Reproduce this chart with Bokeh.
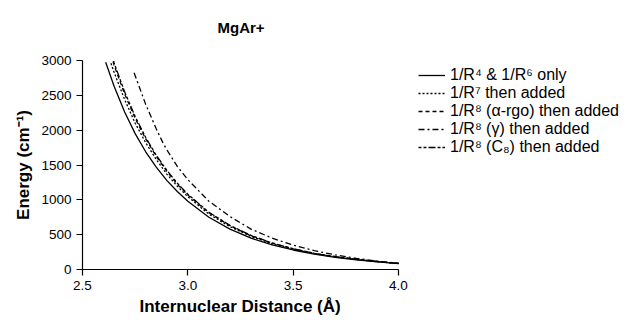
from bokeh.plotting import figure
from bokeh.models import Legend, LegendItem, FixedTicker, Title
from bokeh.embed import file_html
from bokeh.resources import INLINE

# ---- data ----
r_a = [2.61, 2.65, 2.70, 2.75, 2.80, 2.85, 2.90, 2.95, 3.00, 3.10, 3.20, 3.30, 3.40, 3.50, 3.60, 3.70, 3.80, 3.90, 4.00]
e_r4r6 = [2975, 2630, 2260, 1950, 1690, 1470, 1280, 1120, 980, 750, 580, 450, 355, 280, 220, 175, 140, 110, 85]

r_b = [2.635, 2.65, 2.70, 2.75, 2.80, 2.85, 2.90, 2.95, 3.00, 3.10, 3.20, 3.30, 3.40, 3.50, 3.60, 3.70, 3.80, 3.90, 4.00]
e_r7 = [2960, 2830, 2440, 2100, 1820, 1580, 1370, 1195, 1045, 795, 615, 475, 370, 290, 228, 180, 143, 112, 86]

r_c = [2.645, 2.65, 2.70, 2.75, 2.80, 2.85, 2.90, 2.95, 3.00, 3.10, 3.20, 3.30, 3.40, 3.50, 3.60, 3.70, 3.80, 3.90, 4.00]
e_alpha = [2985, 2930, 2520, 2170, 1875, 1625, 1410, 1225, 1070, 815, 628, 485, 378, 296, 232, 183, 145, 114, 88]

r_d = [2.745, 2.80, 2.85, 2.883, 2.90, 2.95, 3.00, 3.10, 3.20, 3.30, 3.40, 3.50, 3.60, 3.70, 3.80, 3.90, 4.00]
e_gamma = [2823, 2370, 2020, 1810, 1720, 1480, 1290, 980, 760, 580, 450, 350, 270, 210, 160, 120, 90]

r_e = [2.648, 2.65, 2.70, 2.75, 2.80, 2.85, 2.90, 2.95, 3.00, 3.10, 3.20, 3.30, 3.40, 3.50, 3.60, 3.70, 3.80, 3.90, 4.00]
e_c8 = [2990, 2965, 2550, 2195, 1895, 1640, 1425, 1240, 1080, 822, 633, 490, 381, 298, 233, 184, 146, 115, 88]

x_ticks = [2.5, 3.0, 3.5, 4.0]
y_ticks = [0, 500, 1000, 1500, 2000, 2500, 3000]

labels = ["1/R\u2074 & 1/R\u2076 only",
          "1/R\u2077 then added",
          "1/R\u2078 (\u03b1-rgo) then added",
          "1/R\u2078 (\u03b3) then added",
          "1/R\u2078 (C\u2088) then added"]

FONT = "Liberation Sans"

# the frame runs to the right edge so that the legend can sit beside the axes;
# the x axis itself is bounded to 2.5..4.0
X_END = 2.5 + 557.0 / 316.0 * 1.5

p = figure(width=639, height=320, output_backend="svg", toolbar_location=None,
           x_range=(2.5, X_END), y_range=(0, 3000),
           min_border_left=82, min_border_right=0, min_border_top=60, min_border_bottom=51)
p.outline_line_color = None
p.xgrid.grid_line_color = None
p.ygrid.grid_line_color = None
p.background_fill_color = "white"
p.border_fill_color = "white"

# a blank second line lifts the title higher above the frame
t = Title(text="MgAr+\n", align="left", offset=135,
          text_font=FONT, text_font_size="15px",
          text_font_style="bold", text_color="black", standoff=16)
p.add_layout(t, "above")

for ax in (p.xaxis[0], p.yaxis[0]):
    ax.axis_line_color = "black"
    ax.axis_line_width = 1.2
    ax.major_tick_line_color = "black"
    ax.major_tick_line_width = 1.2
    ax.major_tick_in = 0
    ax.major_tick_out = 6
    ax.minor_tick_line_color = None
    ax.major_label_text_font = FONT
    ax.major_label_text_font_size = "13.5px"
    ax.major_label_text_color = "black"
    ax.axis_label_text_font = FONT
    ax.axis_label_text_font_size = "17px"
    ax.axis_label_text_font_style = "bold"
    ax.axis_label_text_color = "black"

p.xaxis.bounds = (2.5, 4.0)
p.xaxis.ticker = FixedTicker(ticks=x_ticks)
p.yaxis.ticker = FixedTicker(ticks=y_ticks)
p.xaxis.major_label_overrides = {2.5: "2.5", 3.0: "3.0", 3.5: "3.5", 4.0: "4.0"}
p.yaxis.axis_label = "Energy (cm\u207b\u00b9)"
p.yaxis.axis_label_standoff = 5

xlab = Title(text="Internuclear Distance (\u00c5)", align="left", offset=57,
             text_font=FONT, text_font_size="17px", text_font_style="bold",
             text_color="black", standoff=5)
p.add_layout(xlab, "below")

lw = 1.3
r1 = p.line(r_a, e_r4r6, line_color="black", line_width=lw)
r2 = p.line(r_b, e_r7, line_color="black", line_width=lw, line_dash="2 2")
r3 = p.line(r_c, e_alpha, line_color="black", line_width=lw, line_dash="4 3")
r4 = p.line(r_d, e_gamma, line_color="black", line_width=lw, line_dash="6 3 2 3")
r5 = p.line(r_e, e_c8, line_color="black", line_width=lw, line_dash="3 2 3 2 7 2")

legend = Legend(items=[LegendItem(label=labels[0], renderers=[r1]),
                       LegendItem(label=labels[1], renderers=[r2]),
                       LegendItem(label=labels[2], renderers=[r3]),
                       LegendItem(label=labels[3], renderers=[r4]),
                       LegendItem(label=labels[4], renderers=[r5])],
                location=(336, 113), margin=0, padding=0, spacing=0,
                glyph_width=27, glyph_height=16, label_height=16,
                label_standoff=5, border_line_color=None,
                background_fill_alpha=0,
                label_text_font=FONT, label_text_font_size="16px",
                label_text_color="black")
p.add_layout(legend, "center")

open("out.html", "w").write(file_html(p, INLINE))
